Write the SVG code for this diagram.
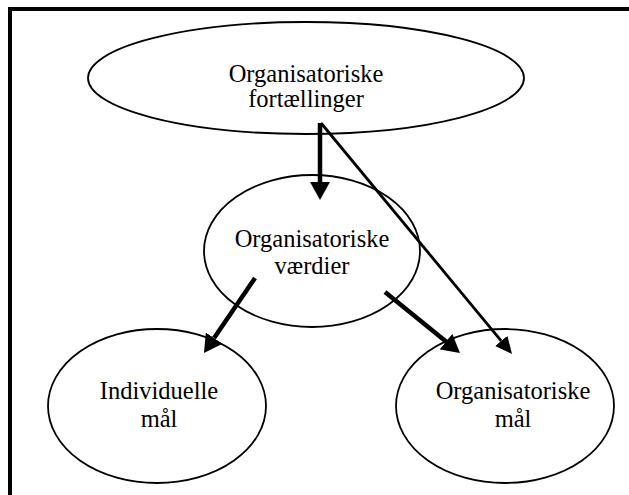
<svg xmlns="http://www.w3.org/2000/svg" width="629" height="495" viewBox="0 0 629 495">
<style>
.node{fill:#fff;stroke:#000;stroke-width:1.8}
.lbl{font-family:"Liberation Serif","Times New Roman",serif;font-size:24.5px;fill:#000;text-anchor:middle}
.thick{stroke:#000;stroke-width:4.5;fill:none}
.thin{stroke:#000;stroke-width:2.8;fill:none}
.frame{stroke:#000;stroke-width:4;fill:none}
</style>
<defs>
<marker id="ah" viewBox="0 0 18 20" refX="0" refY="10" markerWidth="18" markerHeight="20" markerUnits="userSpaceOnUse" orient="auto">
<path d="M0,0 L18,10 L0,20 z" fill="#000"/>
</marker>
<marker id="ahs" viewBox="0 0 17 16" refX="0" refY="8" markerWidth="17" markerHeight="16" markerUnits="userSpaceOnUse" orient="auto">
<path d="M0,0 L17,8 L0,16 z" fill="#000"/>
</marker>
</defs>
<rect width="629" height="495" fill="#fff"/>
<g id="frame">
<line class="frame" x1="8" y1="9" x2="629" y2="9"/>
<line class="frame" x1="10" y1="7" x2="10" y2="495"/>
</g>
<g id="n-fortaellinger">
<ellipse class="node" cx="306" cy="78" rx="218" ry="56"/>
<text class="lbl" x="306" y="82">Organisatoriske</text>
<text class="lbl" x="306" y="107">fortællinger</text>
</g>
<g id="n-vaerdier">
<ellipse class="node" cx="312" cy="251" rx="108" ry="76"/>
<text class="lbl" x="312" y="247">Organisatoriske</text>
<text class="lbl" x="312" y="274">værdier</text>
</g>
<g id="n-individuelle">
<ellipse class="node" cx="157" cy="406" rx="109" ry="77"/>
<text class="lbl" x="159" y="399">Individuelle</text>
<text class="lbl" x="159" y="427">mål</text>
</g>
<g id="n-org-maal">
<ellipse class="node" cx="505" cy="406" rx="109" ry="77"/>
<text class="lbl" x="513" y="399">Organisatoriske</text>
<text class="lbl" x="513" y="427">mål</text>
</g>
<g id="connectors">
<line class="thick" x1="320" y1="123" x2="320" y2="182" marker-end="url(#ah)"/>
<line class="thin" x1="321" y1="123" x2="501.2" y2="340.9" marker-end="url(#ahs)"/>
<line class="thick" x1="255" y1="278" x2="214.1" y2="338.1" marker-end="url(#ah)"/>
<line class="thick" x1="385" y1="292" x2="446" y2="341.6" marker-end="url(#ah)"/>
</g>
</svg>
